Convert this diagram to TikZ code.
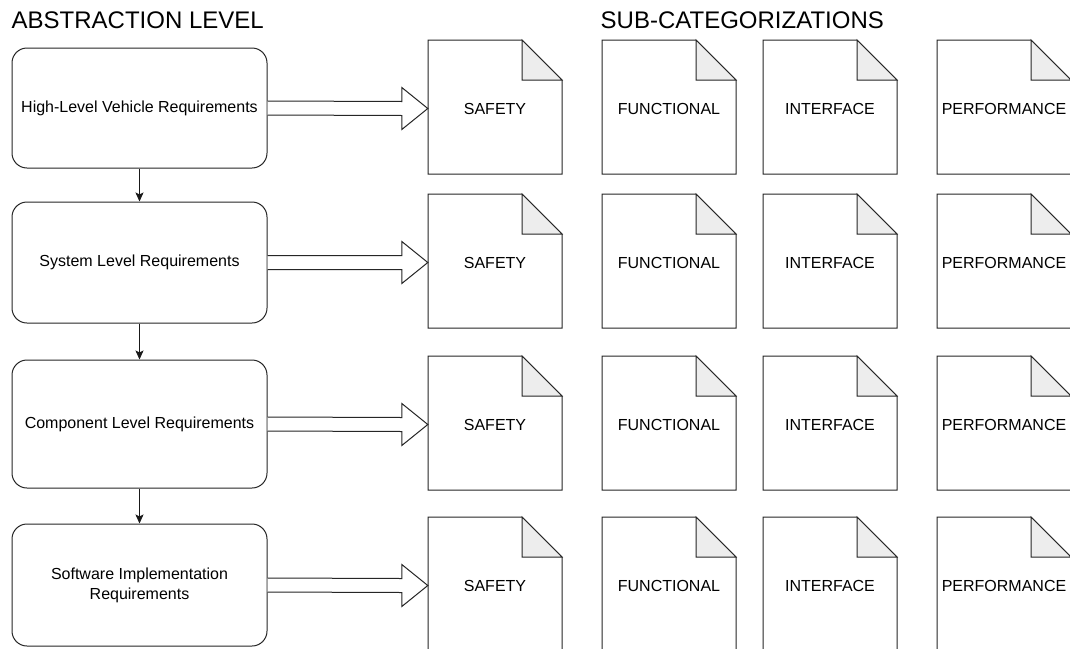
\documentclass[tikz,border=0pt]{standalone}
\usepackage{fontspec}
\setmainfont{Liberation Sans}
\usetikzlibrary{calc,arrows.meta}
\begin{document}
\begin{tikzpicture}[x=1pt,y=-1pt,
  level/.style={draw=black!85, rounded corners=15pt, line width=1pt, minimum width=255pt,
    align=center, inner sep=2pt, font=\fontsize{16}{20}\selectfont},
  docnode/.style={minimum width=134pt, minimum height=134pt, inner sep=0pt,
    font=\fontsize{16}{20}\selectfont},
  docline/.style={draw=black!85, line width=1pt, fill=white, line join=miter},
  fold/.style={draw=black!85, line width=1pt, fill=black!7},
  down/.style={-{Stealth[length=9pt,width=8pt,inset=2pt]}, line width=1pt, draw=black!90},
  wide/.style={draw=black!85, line width=1pt, fill=white},
  heading/.style={font=\fontsize{24}{28}\selectfont, anchor=base west, inner sep=0pt}
]
\clip (0,0) rectangle (1070,648);
\fill[white] (0,0) rectangle (1070,648);

% headings
\node[heading] (hA) at (11.5,28.3) {ABSTRACTION LEVEL};
\node[heading] (hB) at (600.5,28.3) {SUB-CATEGORIZATIONS};

% abstraction levels
\node[level, minimum height=120pt] (b1) at (139.5,108)   {High-Level Vehicle Requirements};
\node[level, minimum height=121pt] (b2) at (139.5,262.5) {System Level Requirements};
\node[level, minimum height=128pt] (b3) at (139.5,424)   {Component Level Requirements};
\node[level, minimum height=122pt] (b4) at (139.5,585)   {Software Implementation\\Requirements};

% downward connectors
\draw[down] (b1.south) -- (b2.north);
\draw[down] (b2.south) -- (b3.north);
\draw[down] (b3.south) -- (b4.north);

% sub-category documents
\foreach \r/\y in {1/107,2/261,3/423,4/584}{
  \foreach \c/\x/\t in {1/495/SAFETY,2/669/FUNCTIONAL,3/830/INTERFACE,4/1004/PERFORMANCE}{
    \path[docline] (\x-67,\y-67) -- (\x+27,\y-67) -- (\x+67,\y-27)
      -- (\x+67,\y+67) -- (\x-67,\y+67) -- cycle;
    \path[fold] (\x+27,\y-67) -- (\x+27,\y-27) -- (\x+67,\y-27) -- cycle;
    \node[docnode] (d\r\c) at (\x,\y+1.5) {\t};
  }
}

% wide arrows from each level to its SAFETY document
\foreach \r in {1,2,3,4}{
  \path[wide] ([yshift=7pt]b\r.east) -- ([xshift=-26pt,yshift=7pt]d\r1.west)
    -- ([xshift=-26pt,yshift=21pt]d\r1.west) -- (d\r1.west)
    -- ([xshift=-26pt,yshift=-21pt]d\r1.west) -- ([xshift=-26pt,yshift=-7pt]d\r1.west)
    -- ([yshift=-7pt]b\r.east);
}
\end{tikzpicture}
\end{document}
